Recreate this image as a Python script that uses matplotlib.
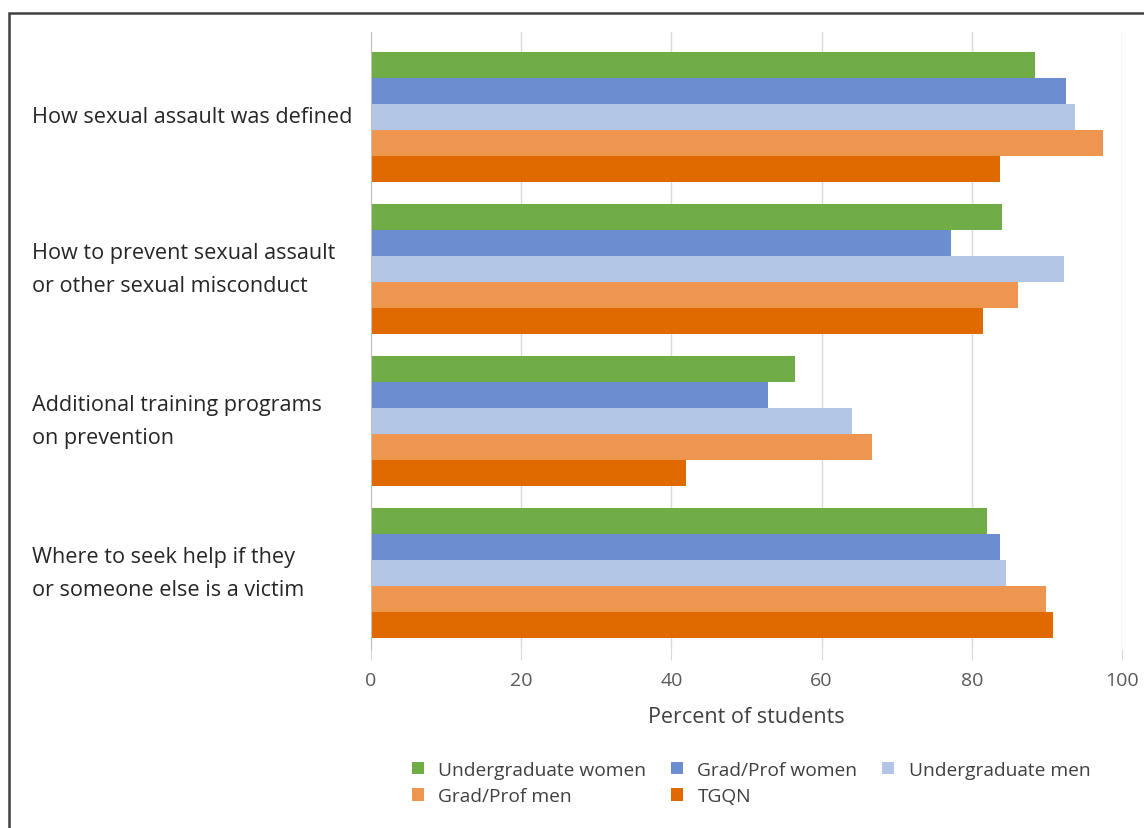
import matplotlib.pyplot as plt
import matplotlib.patches as mpatches
import matplotlib.transforms as mtransforms
import numpy as np

plt.rcParams['font.family'] = ['Open Sans', 'DejaVu Sans']

categories = [
    "How sexual assault was defined",
    "How to prevent sexual assault\nor other sexual misconduct",
    "Additional training programs\non prevention",
    "Where to seek help if they\nor someone else is a victim",
]
series_names = ["Undergraduate women", "Grad/Prof women", "Undergraduate men",
                "Grad/Prof men", "TGQN"]
undergrad_women = [88.4, 84.0, 56.4, 82.0]
grad_women = [92.6, 77.2, 52.9, 83.8]
undergrad_men = [93.7, 92.3, 64.0, 84.5]
grad_men = [97.5, 86.1, 66.7, 89.9]
tgqn = [83.8, 81.5, 41.9, 90.8]
colors = ['#70AD47', '#6A8ED0', '#B3C6E6', '#EE9650', '#E06A00']

values = [undergrad_women, grad_women, undergrad_men, grad_men, tgqn]

fig = plt.figure(figsize=(11.44, 8.29), dpi=100)
ax = fig.add_axes([371 / 1144, 1 - 650 / 829, (1122 - 371) / 1144, (650 - 33) / 829])

y = np.arange(len(categories))
h = 0.1707
handles = []
for i, (vals, name, c) in enumerate(zip(values, series_names, colors)):
    off = (i - 2) * h
    b = ax.barh(y + off, vals, height=h, color=c, label=name, zorder=3)
    handles.append(b)

ax.set_xlim(0, 100)
ax.set_ylim(3.497, -0.556)
ax.set_xticks([0, 20, 40, 60, 80, 100])
ax.xaxis.grid(True, color='#d9d9d9', linewidth=1, zorder=0)
for s in ['top', 'right', 'bottom']:
    ax.spines[s].set_visible(False)
ax.spines['left'].set_color('#bfbfbf')
ax.spines['left'].set_zorder(4)
ax.tick_params(axis='x', length=8, color='#d9d9d9', labelsize=14,
               labelcolor='#595959', pad=8)
ax.tick_params(axis='y', length=0)
ax.set_yticks(y)
ax.set_yticklabels([])

# category labels sit left-aligned near the frame edge
label_tf = mtransforms.blended_transform_factory(fig.transFigure, ax.transData)
for yi, label in zip(y, categories):
    ax.text(32 / 1144, yi, label, transform=label_tf,
            ha='left', va='center', fontsize=15.6, color='#262626', linespacing=1.74)

ax.set_xlabel("Percent of students", fontsize=15.5, color='#404040', labelpad=12)

order = [0, 3, 1, 4, 2]
leg = fig.legend([handles[k] for k in order], [series_names[k] for k in order],
                 ncol=3, loc='center', bbox_to_anchor=(751 / 1144, 1 - 784 / 829),
                 frameon=False, fontsize=13.8, handlelength=0.63, handleheight=0.63,
                 handletextpad=0.75, columnspacing=1.3, labelspacing=0.45)
for t in leg.get_texts():
    t.set_color('#404040')

# outer frame
frame = mpatches.Rectangle((9 / 1144, -0.05), 1.1, 1 - 14 / 829 + 0.05,
                           transform=fig.transFigure, fill=False,
                           edgecolor='#404040', linewidth=1.8, clip_on=False)
fig.patches.append(frame)

fig.savefig('out.png', dpi=100)
